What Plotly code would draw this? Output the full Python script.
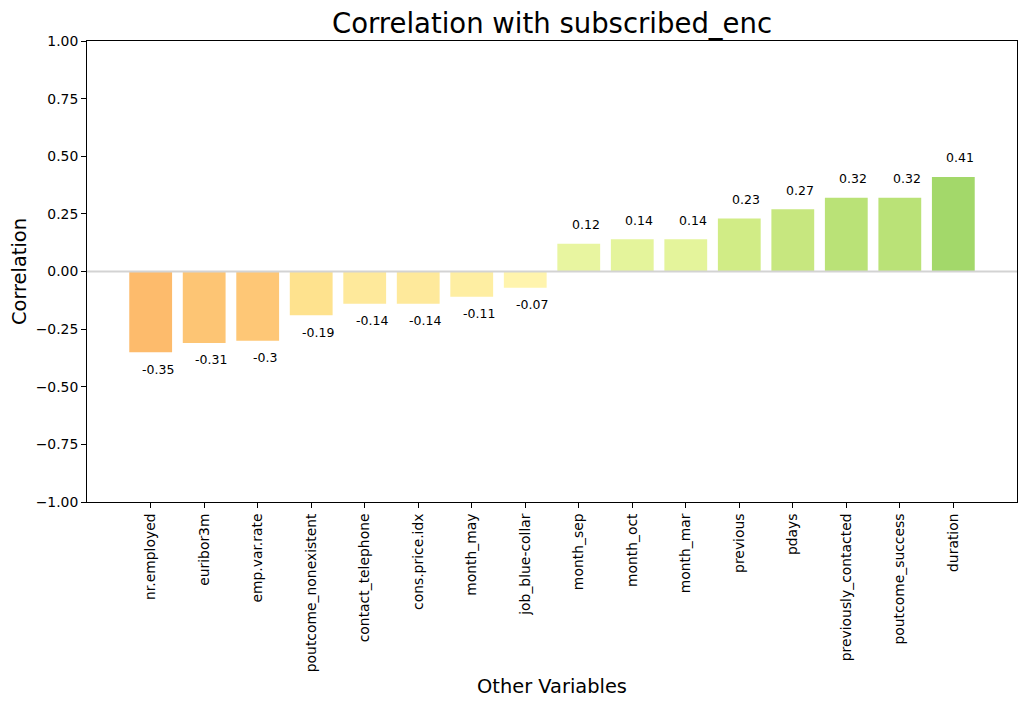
import plotly.graph_objects as go

variables = ["nr.employed", "euribor3m", "emp.var.rate", "poutcome_nonexistent",
             "contact_telephone", "cons.price.idx", "month_may", "job_blue-collar",
             "month_sep", "month_oct", "month_mar", "previous", "pdays",
             "previously_contacted", "poutcome_success", "duration"]
correlations = [-0.35, -0.31, -0.30, -0.19, -0.14, -0.14, -0.11, -0.07,
                0.12, 0.14, 0.14, 0.23, 0.27, 0.32, 0.32, 0.41]
label_texts = ["-0.35", "-0.31", "-0.3", "-0.19", "-0.14", "-0.14", "-0.11", "-0.07",
               "0.12", "0.14", "0.14", "0.23", "0.27", "0.32", "0.32", "0.41"]
y_ticks = [-1.0, -0.75, -0.5, -0.25, 0.0, 0.25, 0.5, 0.75, 1.0]

FONT = "DejaVu Sans"
positions = list(range(len(variables)))

fig = go.Figure()
fig.add_trace(go.Bar(
    x=positions, y=correlations, width=0.8,
    marker=dict(color=correlations, colorscale="RdYlGn", cmin=-1, cmax=1,
                line=dict(width=0)),
    showlegend=False, hoverinfo="x+y",
))

for p, v, t in zip(positions, correlations, label_texts):
    pos = v >= 0
    fig.add_annotation(
        x=p + 0.13, y=v + (0.05 if pos else -0.05),
        text=t, showarrow=False,
        xanchor="center", yanchor="bottom" if pos else "top",
        yshift=-2 if pos else 4,
        font=dict(family=FONT, size=12.5, color="black"),
    )

fig.add_shape(type="line", xref="x domain", yref="y", x0=0, x1=1, y0=0, y1=0,
              line=dict(color="lightgrey", width=2), layer="above")

fig.update_layout(
    width=1026, height=705,
    margin=dict(l=87, r=9, t=41, b=203, autoexpand=False),
    paper_bgcolor="white", plot_bgcolor="white",
    font=dict(family=FONT, color="black"),
    title=dict(text="Correlation with subscribed_enc", x=0.5, xref="paper",
               xanchor="center", y=1 - 23 / 705, yanchor="middle",
               font=dict(family=FONT, size=27.5, color="black")),
    xaxis=dict(
        range=[-1.19, 16.19], tickmode="array", tickvals=positions, ticktext=variables,
        tickangle=-90, ticks="outside", ticklen=4.9, tickwidth=1.1, tickcolor="black",
        tickfont=dict(family=FONT, size=13.9, color="black"),
        showline=True, linecolor="black", linewidth=1.1, mirror=True,
        showgrid=False, zeroline=False, automargin=False,
        title=dict(text="Other Variables", standoff=8,
                   font=dict(family=FONT, size=19.4, color="black")),
    ),
    yaxis=dict(
        range=[-1, 1], tickmode="array", tickvals=y_ticks, tickformat=".2f",
        ticks="outside", ticklen=4.9, tickwidth=1.1, tickcolor="black",
        tickfont=dict(family=FONT, size=13.9, color="black"),
        showline=True, linecolor="black", linewidth=1.1, mirror=True,
        showgrid=False, zeroline=False, automargin=False,
        title=dict(text="Correlation", standoff=3,
                   font=dict(family=FONT, size=19.4, color="black")),
    ),
)

fig.write_html("out.html")
